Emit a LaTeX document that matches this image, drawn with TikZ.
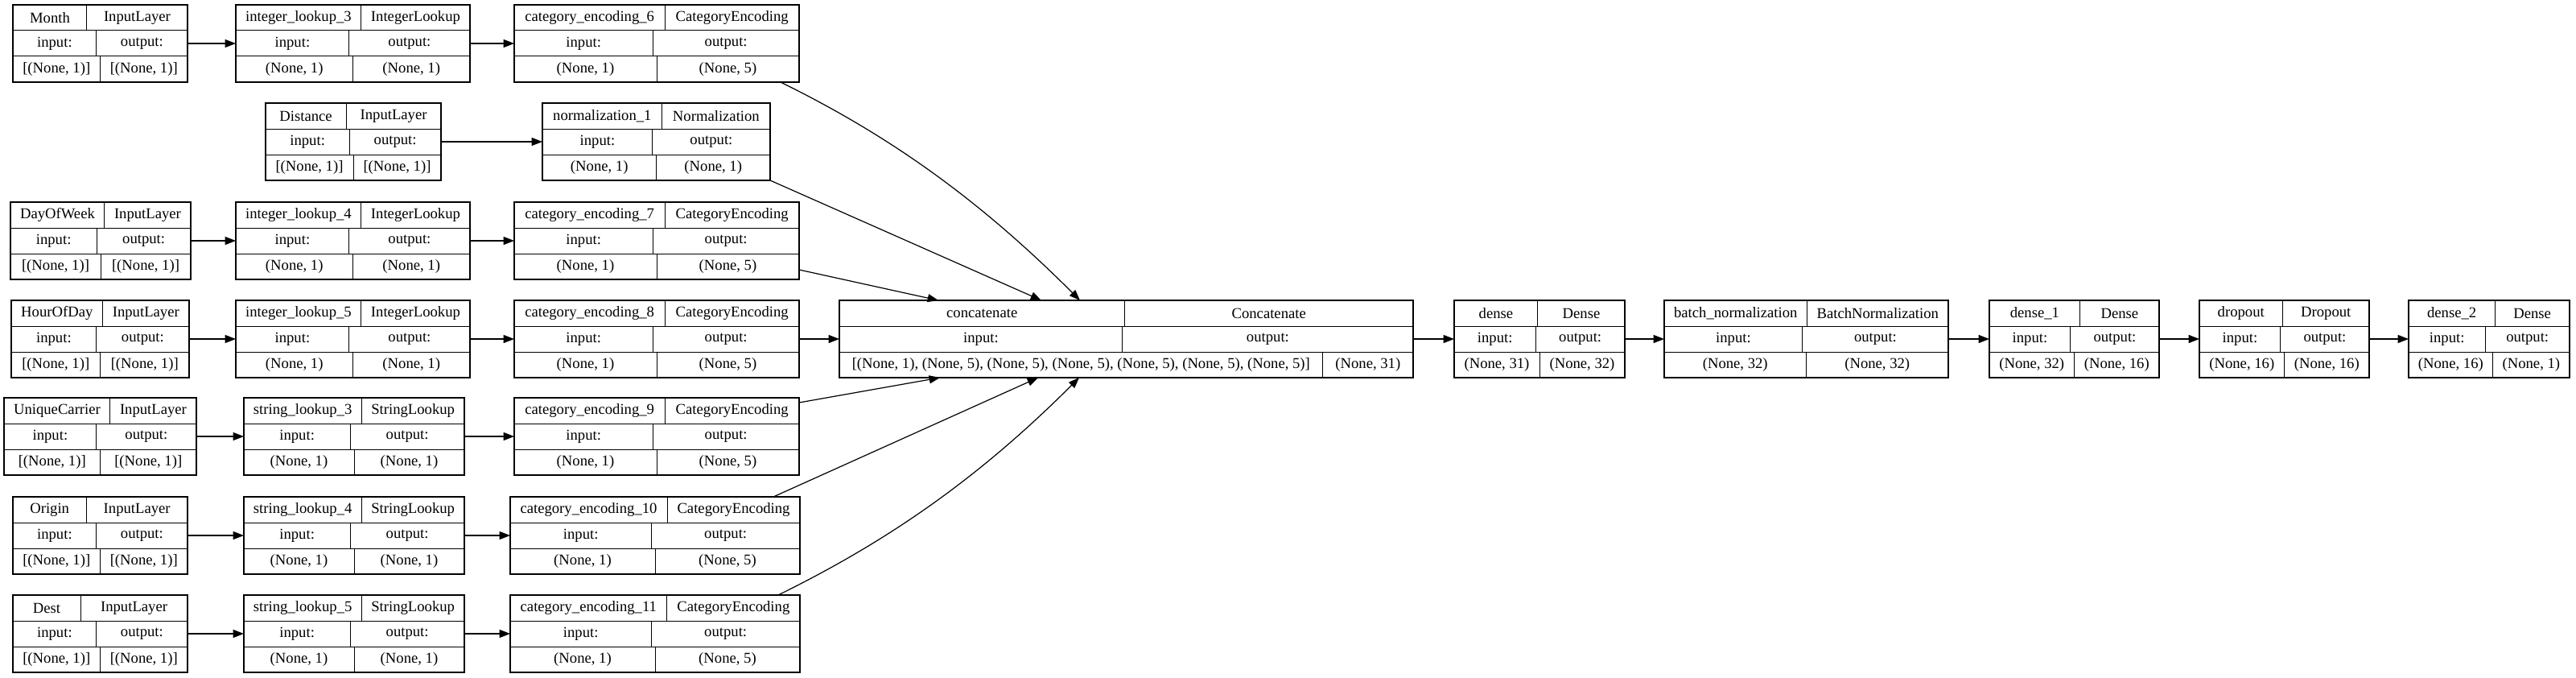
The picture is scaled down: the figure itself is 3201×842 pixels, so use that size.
\documentclass[tikz,border=0pt]{standalone}
\usepackage{fontspec}
\setmainfont{Liberation Serif}
\usetikzlibrary{arrows.meta,calc}

\newcommand{\lyrfont}{\fontsize{14pt}{16.8pt}\selectfont}
\newlength\fldA
\newlength\fldB
\newcommand{\fields}[3]{%
  \pgfinterruptpicture
    \settowidth\fldA{\lyrfont #2}\global\fldA=\fldA
    \settowidth\fldB{\lyrfont #3}\global\fldB=\fldB
  \endpgfinterruptpicture
  \pgfmathsetmacro\splitx{\lyrx+(\fldA-\fldB)/1.5}%
  \pgfmathsetmacro\rowy{\lyrt+32*#1}%
  \draw (\splitx,\rowy) -- (\splitx,\rowy+32);
  \node at ({(\lyrx-\lyrw/2+\splitx)/2},\rowy+16) {#2};
  \node at ({(\splitx+\lyrx+\lyrw/2)/2},\rowy+16) {#3};}
\newcommand{\layer}[8]{%
  \def\lyrx{#2}\def\lyrt{#3}\def\lyrw{#4}%
  \node[layerbox, minimum width=#4*0.75pt] (#1) at (#2,#3+48) {};
  \draw (#2-#4/2,#3+32) -- ++(#4,0) (#2-#4/2,#3+64) -- ++(#4,0);
  \fields{0}{#5}{#6}\fields{1}{input:}{output:}\fields{2}{#7}{#8}}

\begin{document}
\begin{tikzpicture}[x=0.75pt, y=-0.75pt, line width=0.75pt,
  every node/.style={inner sep=0pt, font=\lyrfont},
  layerbox/.style={draw, line width=1pt, minimum height=72pt, inner sep=0pt, outer sep=0pt},
  edge/.style={-{Triangle[length=10pt,width=7.5pt]}, line width=0.9pt}]
\fill[white] (0,0) rectangle (3201,842);

\layer{month}{124.5}{6}{217}{Month}{InputLayer}{[(None, 1)]}{[(None, 1)]}
\layer{il3}{438.5}{6}{291}{integer\_lookup\_3}{IntegerLookup}{(None, 1)}{(None, 1)}
\layer{ce6}{816}{6}{354}{category\_encoding\_6}{CategoryEncoding}{(None, 1)}{(None, 5)}
\layer{dist}{439}{128}{218}{Distance}{InputLayer}{[(None, 1)]}{[(None, 1)]}
\layer{nm1}{815.5}{128}{283}{normalization\_1}{Normalization}{(None, 1)}{(None, 1)}
\layer{dow}{125}{251}{224}{DayOfWeek}{InputLayer}{[(None, 1)]}{[(None, 1)]}
\layer{il4}{438.5}{251}{291}{integer\_lookup\_4}{IntegerLookup}{(None, 1)}{(None, 1)}
\layer{ce7}{816}{251}{354}{category\_encoding\_7}{CategoryEncoding}{(None, 1)}{(None, 5)}
\layer{hod}{124.5}{373}{221}{HourOfDay}{InputLayer}{[(None, 1)]}{[(None, 1)]}
\layer{il5}{438.5}{373}{291}{integer\_lookup\_5}{IntegerLookup}{(None, 1)}{(None, 1)}
\layer{ce8}{816}{373}{354}{category\_encoding\_8}{CategoryEncoding}{(None, 1)}{(None, 5)}
\layer{uc}{124.5}{494}{239}{UniqueCarrier}{InputLayer}{[(None, 1)]}{[(None, 1)]}
\layer{sl3}{440}{494}{274}{string\_lookup\_3}{StringLookup}{(None, 1)}{(None, 1)}
\layer{ce9}{816}{494}{354}{category\_encoding\_9}{CategoryEncoding}{(None, 1)}{(None, 5)}
\layer{org}{124.5}{617}{217}{Origin}{InputLayer}{[(None, 1)]}{[(None, 1)]}
\layer{sl4}{440}{617}{274}{string\_lookup\_4}{StringLookup}{(None, 1)}{(None, 1)}
\layer{ce10}{814}{617}{360}{category\_encoding\_10}{CategoryEncoding}{(None, 1)}{(None, 5)}
\layer{dst}{124.5}{739}{217}{Dest}{InputLayer}{[(None, 1)]}{[(None, 1)]}
\layer{sl5}{440}{739}{274}{string\_lookup\_5}{StringLookup}{(None, 1)}{(None, 1)}
\layer{ce11}{814}{739}{360}{category\_encoding\_11}{CategoryEncoding}{(None, 1)}{(None, 5)}
\layer{cc}{1399.5}{373}{713}{concatenate}{Concatenate}{[(None, 1), (None, 5), (None, 5), (None, 5), (None, 5), (None, 5), (None, 5)]}{(None, 31)}
\layer{d0}{1913}{373}{212}{dense}{Dense}{(None, 31)}{(None, 32)}
\layer{bn}{2244.5}{373}{353}{batch\_normalization}{BatchNormalization}{(None, 32)}{(None, 32)}
\layer{d1}{2577.5}{373}{211}{dense\_1}{Dense}{(None, 32)}{(None, 16)}
\layer{dp}{2838.5}{373}{211}{dropout}{Dropout}{(None, 16)}{(None, 16)}
\layer{d2}{3093}{373}{200}{dense\_2}{Dense}{(None, 16)}{(None, 1)}

\draw[edge] (month) -- (il3);
\draw[edge] (il3) -- (ce6);
\draw[edge] (dist) -- (nm1);
\draw[edge] (dow) -- (il4);
\draw[edge] (il4) -- (ce7);
\draw[edge] (hod) -- (il5);
\draw[edge] (il5) -- (ce8);
\draw[edge] (uc) -- (sl3);
\draw[edge] (sl3) -- (ce9);
\draw[edge] (org) -- (sl4);
\draw[edge] (sl4) -- (ce10);
\draw[edge] (dst) -- (sl5);
\draw[edge] (sl5) -- (ce11);
\draw[edge] ($(ce6.south east)+(-23,0)$) .. controls +(130,64) and +(-130,-130) .. ($(cc.north west)+(299,0)$);
\draw[edge] (nm1.south east) -- ($(cc.north west)+(251,0)$);
\draw[edge] ($(ce7.south east)+(0,-12)$) -- ($(cc.north west)+(123,0)$);
\draw[edge] (ce8) -- (cc);
\draw[edge] ($(ce9.north east)+(0,6)$) -- ($(cc.south west)+(125,0)$);
\draw[edge] ($(ce10.north east)+(-33,0)$) -- ($(cc.south west)+(247,0)$);
\draw[edge] ($(ce11.north east)+(-27,0)$) .. controls +(130,-64) and +(-130,130) .. ($(cc.south west)+(298,0)$);
\draw[edge] (cc) -- (d0);
\draw[edge] (d0) -- (bn);
\draw[edge] (bn) -- (d1);
\draw[edge] (d1) -- (dp);
\draw[edge] (dp) -- (d2);
\end{tikzpicture}
\end{document}
